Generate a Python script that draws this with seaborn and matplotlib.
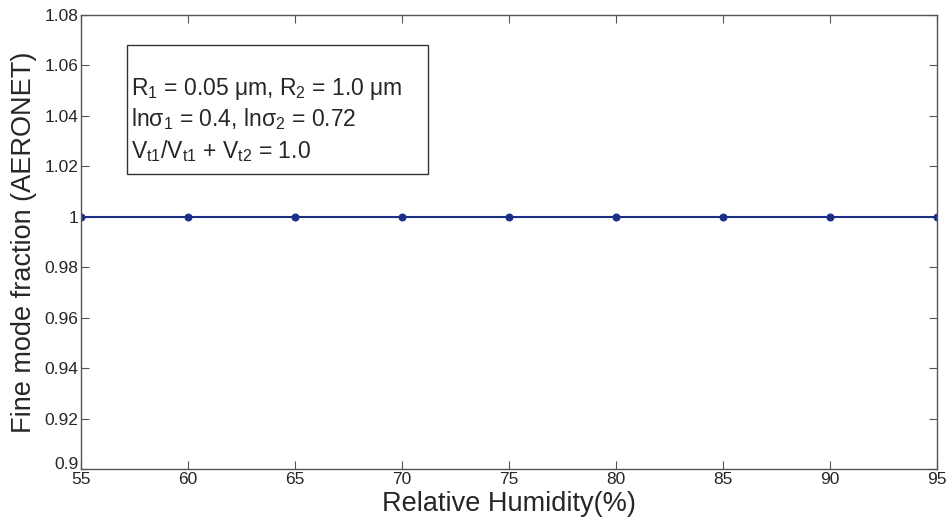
import numpy as np
import pandas as pd
import seaborn as sns
import matplotlib.pyplot as plt
import matplotlib.transforms as mtransforms
from matplotlib.patches import Rectangle
from matplotlib.ticker import FuncFormatter

# datos: fraccion de modo fino vs humedad relativa
rh = [55, 60, 65, 70, 75, 80, 85, 90, 95]
fmf = [1.0, 1.0, 1.0, 1.0, 1.0, 1.0, 1.0, 1.0, 1.0]
xticks = [55, 60, 65, 70, 75, 80, 85, 90, 95]
yticks = [0.9, 0.92, 0.94, 0.96, 0.98, 1.0, 1.02, 1.04, 1.06, 1.08]

df = pd.DataFrame({'rh': rh, 'fmf': fmf})

sns.set_style("ticks")
plt.rcParams['font.family'] = ['Liberation Sans', 'DejaVu Sans']
plt.rcParams['mathtext.fontset'] = 'custom'
plt.rcParams['mathtext.rm'] = 'Liberation Sans'
plt.rcParams['mathtext.it'] = 'Liberation Sans'

fig = plt.figure(figsize=(9.5, 5.27), dpi=100)
ax = fig.add_axes([0.0853, 0.110, 0.901, 0.8615])

sns.lineplot(x='rh', y='fmf', data=df, ax=ax, color='#1c2f87', marker='o',
             markersize=5, markeredgecolor='#1c2f87', linewidth=1.5)

ax.set_xlim(55, 95)
ax.set_ylim(0.9, 1.08)
ax.set_xticks(xticks)
ax.set_yticks(yticks)
ax.yaxis.set_major_formatter(FuncFormatter(lambda v, p: '%g' % round(v, 2)))
ax.tick_params(direction='in', top=True, right=True, labelsize=12.5, length=6,
               width=0.8, color='#555555', pad=2)
for s in ax.spines.values():
    s.set_color('#555555')
    s.set_linewidth(1.0)

# subir un poco la etiqueta 0.9 para que no pise el 55
lbl = ax.get_yticklabels()[0]
lbl.set_transform(lbl.get_transform() + mtransforms.ScaledTranslation(0, 6/100, fig.dpi_scale_trans))

ax.set_xlabel("Relative Humidity(%)", fontsize=19.5, labelpad=3)
ax.set_ylabel("Fine mode fraction (AERONET)", fontsize=19.5, labelpad=5)

# cuadro con parametros
ax.add_patch(Rectangle((0.0537, 0.65), 0.352, 0.284, transform=ax.transAxes,
                       fill=False, edgecolor='#333333', linewidth=1.0))
lines = [r'R$_1$ = 0.05 μm, R$_2$ = 1.0 μm',
         r'lnσ$_1$ = 0.4, lnσ$_2$ = 0.72',
         r'V$_{t1}$/V$_{t1}$ + V$_{t2}$ = 1.0']
ys = [0.838, 0.770, 0.700]
for t, y in zip(lines, ys):
    ax.text(0.058, y, t, transform=ax.transAxes, fontsize=16.5, va='center')

plt.savefig("out.png", dpi=100)
